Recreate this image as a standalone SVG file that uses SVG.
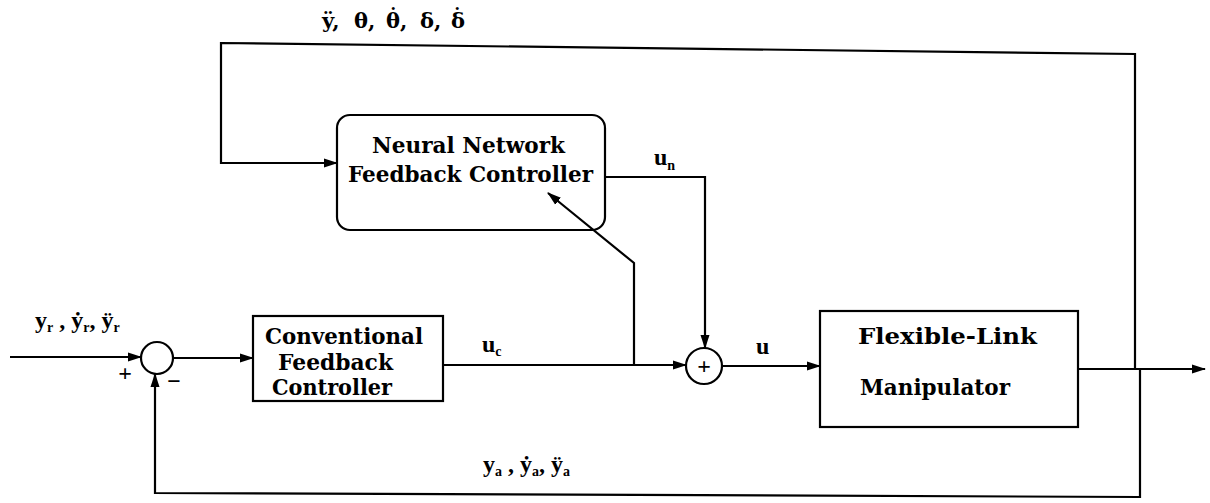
<svg xmlns="http://www.w3.org/2000/svg" width="1210" height="503" viewBox="0 0 1210 503">
<style>
.box{fill:#fff;stroke:#000;stroke-width:2.2}
.ln{fill:none;stroke:#000;stroke-width:2.2}
.bt{font-family:"DejaVu Serif",serif;font-weight:bold;font-size:22px;fill:#000}
.lb{font-family:"Liberation Serif",serif;font-weight:bold;font-size:24px;fill:#000}
.gk{font-family:"DejaVu Serif",serif;font-weight:bold;font-size:21px;fill:#000}
.sub{font-size:14px}
</style>
<defs>
<marker id="arr" markerUnits="userSpaceOnUse" markerWidth="14" markerHeight="10" refX="13" refY="5" orient="auto">
<path d="M0,0.5 L14,5 L0,9.5 z" fill="#000"/>
</marker>
</defs>
<g id="sum1">
<circle class="box" cx="157" cy="358" r="16"/>
<text class="lb" x="125" y="381" text-anchor="middle" font-size="20">+</text>
<text class="lb" x="174" y="389" text-anchor="middle" font-size="20">−</text>
</g>
<g id="sum2">
<circle class="box" cx="704" cy="366" r="18"/>
<text class="lb" x="704" y="374" text-anchor="middle" font-size="26">+</text>
</g>
<g id="nn">
<rect class="box" x="337" y="115" width="268" height="115" rx="13"/>
<text class="bt" x="372" y="153" textLength="193" lengthAdjust="spacingAndGlyphs">Neural Network</text>
<text class="bt" x="348" y="182" textLength="245" lengthAdjust="spacingAndGlyphs">Feedback Controller</text>
</g>
<g id="conv">
<rect class="box" x="253" y="316" width="190" height="85"/>
<text class="bt" x="265" y="344" textLength="158" lengthAdjust="spacingAndGlyphs" font-size="21">Conventional</text>
<text class="bt" x="278" y="370" textLength="115" lengthAdjust="spacingAndGlyphs" font-size="21">Feedback</text>
<text class="bt" x="272" y="395" textLength="120" lengthAdjust="spacingAndGlyphs" font-size="21">Controller</text>
</g>
<g id="flm">
<rect class="box" x="820" y="311" width="258" height="116"/>
<text class="bt" x="858" y="344" textLength="179" lengthAdjust="spacingAndGlyphs">Flexible-Link</text>
<text class="bt" x="860" y="395" textLength="150" lengthAdjust="spacingAndGlyphs">Manipulator</text>
</g>
<g id="connectors">
<path class="ln" d="M10,357 H141" marker-end="url(#arr)"/>
<path class="ln" d="M173,358 H253" marker-end="url(#arr)"/>
<path class="ln" d="M443,365 H686" marker-end="url(#arr)"/>
<path class="ln" d="M634,365 V263 L548,193" marker-end="url(#arr)"/>
<path class="ln" d="M605,177 H705 V348" marker-end="url(#arr)"/>
<path class="ln" d="M722,366 H820" marker-end="url(#arr)"/>
<path class="ln" d="M1078,369 H1205" marker-end="url(#arr)"/>
<path class="ln" d="M1135,369 V54 L221,43 V163 H337" marker-end="url(#arr)"/>
<path class="ln" d="M1140,369 V497 L155,493 V374" marker-end="url(#arr)"/>
</g>
<g id="labels">
<text class="gk" y="28"><tspan x="322">ÿ,</tspan><tspan x="354">θ,</tspan><tspan x="386">θ,</tspan><tspan x="420">δ,</tspan><tspan x="451">δ</tspan><tspan x="388" y="23">˙</tspan><tspan x="452" y="23">˙</tspan></text>
<text class="lb" x="482" y="352">u<tspan class="sub" dy="4">c</tspan></text>
<text class="lb" x="756" y="354">u</text>
<text class="lb" x="654" y="165">u<tspan class="sub" dy="5">n</tspan></text>
<text class="lb" x="35" y="328">y<tspan class="sub" dy="4">r</tspan><tspan dy="-4"> , ẏ</tspan><tspan class="sub" dy="4">r</tspan><tspan dy="-4">, ÿ</tspan><tspan class="sub" dy="4">r</tspan></text>
<text class="lb" x="483" y="472">y<tspan class="sub" dy="4">a</tspan><tspan dy="-4"> , ẏ</tspan><tspan class="sub" dy="4">a</tspan><tspan dy="-4">, ÿ</tspan><tspan class="sub" dy="4">a</tspan></text>
</g>
</svg>
